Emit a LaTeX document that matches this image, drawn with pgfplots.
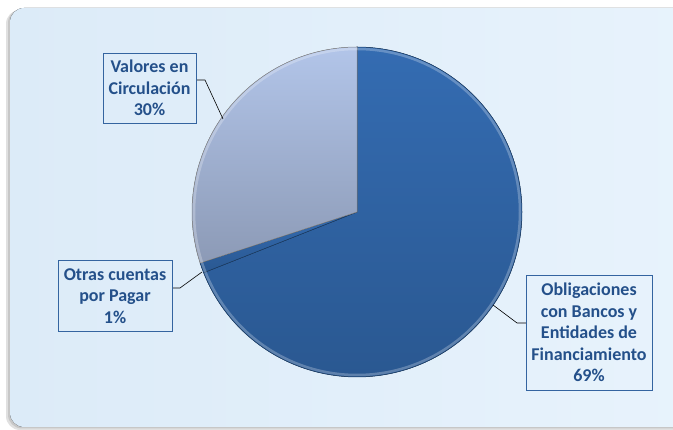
\documentclass[border=0pt]{standalone}
\usepackage{pgfplots}
\pgfplotsset{compat=1.18}
\usepackage{pgfplotstable}
\usepackage{fontspec}
\setmainfont{Carlito}

\definecolor{panel}{HTML}{DCEBF8}
\definecolor{panelhi}{HTML}{E8F3FC}
\definecolor{darkA}{HTML}{346CB2}
\definecolor{darkB}{HTML}{2A5891}
\definecolor{lightA}{HTML}{B2C5E9}
\definecolor{lightB}{HTML}{8C9AB6}
\definecolor{lbltext}{HTML}{24508A}
\definecolor{lblframe}{HTML}{3464A0}

\tikzset{lbl/.style={draw=lblframe, line width=0.8pt, fill=none, text=lbltext,
    font=\bfseries\fontsize{18}{21.5}\selectfont, align=center, inner sep=3pt}}

% share of each slice, clockwise from 12 o'clock
\pgfplotstableread{
label value
Obligaciones 69
Otras 1
Valores 30
}\piedata

\begin{document}
\begin{tikzpicture}
\path[use as bounding box] (0,0) rectangle (673pt,430pt);
\clip (0,0) rectangle (673pt,430pt);
\fill[white] (0,0) rectangle (673pt,430pt);

\pgfplotstablegetelem{0}{value}\of\piedata \let\va\pgfplotsretval
\pgfplotstablegetelem{1}{value}\of\piedata \let\vb\pgfplotsretval
\pgfplotstablegetelem{2}{value}\of\piedata \let\vc\pgfplotsretval
\pgfmathsetmacro{\aA}{90-3.6*\va}
\pgfmathsetmacro{\aB}{\aA-3.6*\vb}
\pgfmathsetmacro{\aC}{\aB-3.6*\vc}

\begin{axis}[
    x=1pt, y=1pt,
    xmin=0, xmax=673, ymin=0, ymax=430,
    hide axis, clip=false
    ]
    % panel with soft shadow on the left and bottom
    \fill[black!12, rounded corners=14pt] (6,0) rectangle (700,420);
    \fill[black!22, rounded corners=14pt] (8,1.5) rectangle (700,421);
    \fill[left color=panel, right color=panelhi, rounded corners=14pt] (10,3) rectangle (700,422);

    % slices
    \fill[top color=darkA, bottom color=darkB, draw=darkB!70!black, line width=0.5pt]
        (357,218) -- (357,383) arc[start angle=90, end angle=\aA, radius=165pt] -- cycle;
    \fill[top color=darkA, bottom color=darkB, draw=darkB!70!black, line width=0.5pt]
        (357,218) -- ({357+165*cos(\aA)},{218+165*sin(\aA)}) arc[start angle=\aA, end angle=\aB, radius=165pt] -- cycle;
    \fill[top color=lightA, bottom color=lightB, draw=black!45, line width=0.5pt]
        (357,218) -- ({357+165*cos(\aB)},{218+165*sin(\aB)}) arc[start angle=\aB, end angle=\aC, radius=165pt] -- cycle;
    \draw[white, opacity=0.25, line width=2.5pt] (357,218) circle[radius=163pt];

    % leader lines
    \draw[black, line width=0.6pt] (196,350) -- (205,350) -- (223,311);
    \draw[black, line width=0.6pt] (172,142) -- (180,142) -- (202,158);
    \draw[black, line width=0.6pt] (526,107) -- (517,107) -- (493,125);

    % labels
    \node[lbl, minimum width=93pt, minimum height=70pt] at (149.5,342)
        {Valores en\\Circulación\\30\%};
    \node[lbl, minimum width=114pt, minimum height=71pt] at (115,134)
        {Otras cuentas\\por Pagar\\1\%};
    \node[lbl, minimum width=126pt, minimum height=115pt] at (589,97.5)
        {Obligaciones\\con Bancos y\\Entidades de\\Financiamiento\\69\%};
\end{axis}
\end{tikzpicture}
\end{document}
